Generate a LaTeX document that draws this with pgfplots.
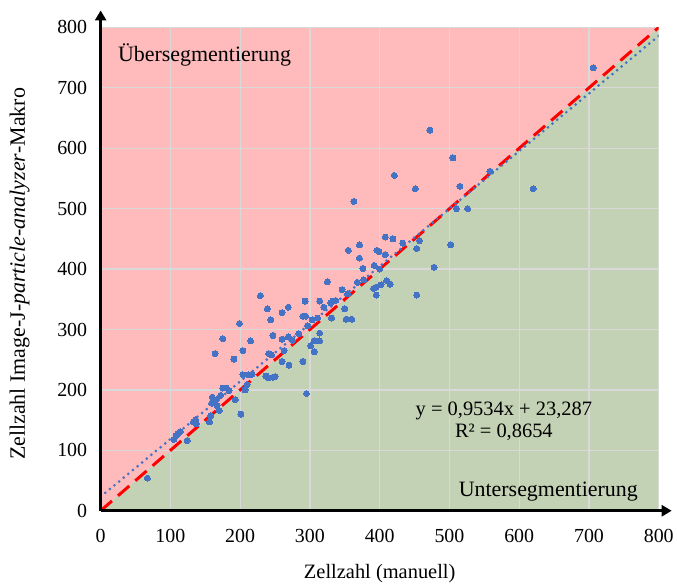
\documentclass[border=0pt]{standalone}
\usepackage{pgfplots}
\pgfplotsset{compat=1.18}
\usepackage{pgfplotstable}
\usepackage{fontspec}
\setmainfont{Liberation Serif}
\usetikzlibrary{arrows.meta}
\definecolor{pinkbg}{RGB}{255,187,187}
\definecolor{greenbg}{RGB}{195,210,181}
\definecolor{ptblue}{RGB}{68,114,196}
\definecolor{gridc}{RGB}{217,217,217}
\pgfplotstableread{
x y
67 54
105 118
108 124
111 128
114 131
124 116
133 147
136 151
137 144
156 147
158 157
159 178
160 188
166 184
167 174
170 166
172 191
175 203
180 203
184 199
193 184
201 160
207 200
210 209
204 225
212 225
217 226
237 223
240 220
247 221
250 222
164 260
191 251
204 265
241 260
245 258
175 285
215 281
199 310
229 356
239 334
244 316
247 290
260 284
269 288
275 282
284 293
260 328
269 337
270 241
260 247
263 265
290 247
295 194
290 322
294 322
293 347
314 347
320 337
297 306
303 316
311 319
306 281
314 281
301 273
306 263
314 294
325 379
330 344
333 347
337 348
331 319
346 366
354 359
350 334
352 317
360 317
363 512
355 431
371 440
371 418
368 378
377 382
376 401
392 406
396 431
399 429
408 424
400 400
408 453
419 450
433 443
457 447
453 434
502 440
478 403
391 368
395 370
402 374
410 381
415 375
395 357
453 357
421 555
451 533
515 537
510 500
526 500
472 630
505 584
558 562
620 533
706 733
}\pts
\begin{document}
\begin{tikzpicture}
\begin{axis}[
  axis on top,
  scale only axis, width=560bp, height=485bp,
  xmin=0, xmax=800, ymin=0, ymax=800,
  xtick={0,100,...,800}, ytick={0,100,...,800},
  axis lines=left,
  x axis line style={line width=2.6bp, -{Triangle[length=10bp,width=11bp]}, shorten >=-13bp},
  y axis line style={line width=2.6bp, -{Triangle[length=10bp,width=11bp]}, shorten >=-17bp},
  major tick length=0pt,
  tick label style={font=\fontsize{20bp}{24bp}\selectfont, text=black},
  xticklabel style={yshift=-15bp},
  yticklabel style={xshift=-10bp},
  /pgf/number format/assume math mode=true,
  xlabel={Zellzahl (manuell)},
  ylabel={Zellzahl Image-J-\textit{particle-analyzer}-Makro},
  xlabel style={font=\fontsize{20.5bp}{24bp}\selectfont, inner sep=0pt, at={(axis description cs:0.5,-0.131)}, anchor=center},
  ylabel style={font=\fontsize{22bp}{26bp}\selectfont, inner sep=0pt, at={(axis description cs:-0.145,0.49)}, anchor=center},
]
\addplot[fill=pinkbg, draw=none] coordinates {(0,0) (800,800) (0,800) (0,0)};
\addplot[fill=greenbg, draw=none] coordinates {(0,0) (800,0) (800,800) (0,0)};
\addplot[gridc, line width=1.2bp] coordinates {(100,0) (100,800)};
\addplot[gridc, line width=1.2bp] coordinates {(200,0) (200,800)};
\addplot[gridc, line width=1.2bp] coordinates {(300,0) (300,800)};
\addplot[gridc, line width=1.2bp] coordinates {(400,0) (400,800)};
\addplot[gridc, line width=1.2bp] coordinates {(500,0) (500,800)};
\addplot[gridc, line width=1.2bp] coordinates {(600,0) (600,800)};
\addplot[gridc, line width=1.2bp] coordinates {(700,0) (700,800)};
\addplot[gridc, line width=1.2bp] coordinates {(800,0) (800,800)};
\addplot[gridc, line width=1.2bp] coordinates {(0,100) (800,100)};
\addplot[gridc, line width=1.2bp] coordinates {(0,200) (800,200)};
\addplot[gridc, line width=1.2bp] coordinates {(0,300) (800,300)};
\addplot[gridc, line width=1.2bp] coordinates {(0,400) (800,400)};
\addplot[gridc, line width=1.2bp] coordinates {(0,500) (800,500)};
\addplot[gridc, line width=1.2bp] coordinates {(0,600) (800,600)};
\addplot[gridc, line width=1.2bp] coordinates {(0,700) (800,700)};
\addplot[gridc, line width=1.2bp] coordinates {(0,800) (800,800)};
\addplot[red, line width=3bp, dash pattern=on 15bp off 8bp] coordinates {(0,0) (800,800)};
\addplot[ptblue, line width=3bp, line cap=round, dash pattern=on 0bp off 6bp] coordinates {(0,23.287) (800,786.007)};
\addplot[only marks, mark=*, mark size=3bp, mark options={fill=ptblue, draw=ptblue, line width=0pt}] table[x=x,y=y] {\pts};
\node[anchor=west, font=\fontsize{22bp}{26bp}\selectfont] at (axis cs:20,755) {Übersegmentierung};
\node[anchor=east, font=\fontsize{22bp}{26bp}\selectfont] at (axis cs:775,32) {Untersegmentierung};
\node[align=center, font=\fontsize{20.5bp}{22bp}\selectfont] at (axis cs:578,148) {y = 0,9534x + 23,287\\R² = 0,8654};
\end{axis}
\path (-101bp,-74.5bp) (576bp,512.5bp);
\end{tikzpicture}
\end{document}
